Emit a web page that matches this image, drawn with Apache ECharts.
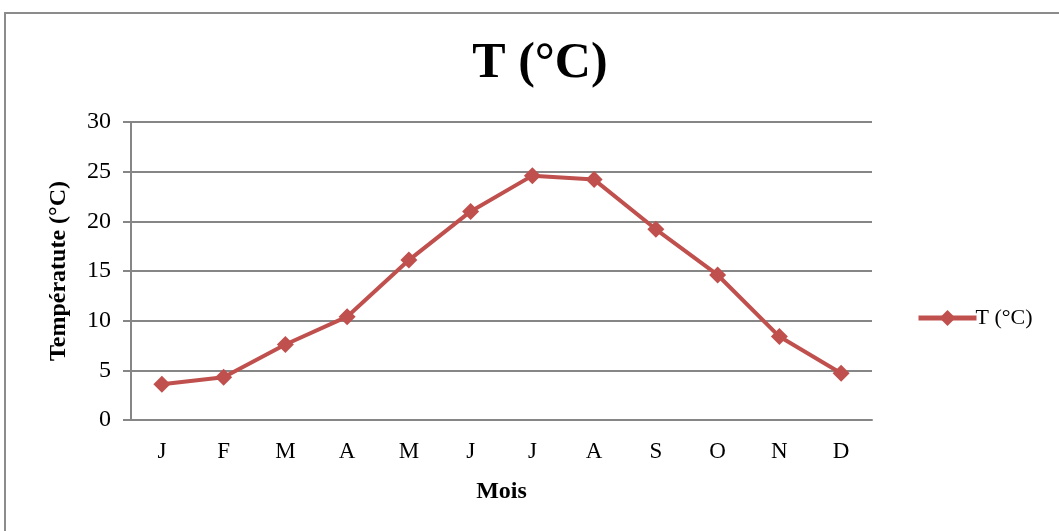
<!DOCTYPE html>
<html><head><meta charset="utf-8">
<script src="https://cdn.jsdelivr.net/npm/echarts@6/dist/echarts.min.js"></script>
<style>html,body{margin:0;padding:0;background:#fff}#c{width:1059px;height:531px}</style>
</head><body><div id="c"></div>
<script>
const categories = ['J','F','M','A','M','J','J','A','S','O','N','D'];
const temperatures = [3.6, 4.3, 7.6, 10.4, 16.1, 21.0, 24.6, 24.2, 19.2, 14.6, 8.4, 4.7];
const seriesName = 'T (°C)';
const yTicks = [0, 30, 5];

const font = '"Liberation Serif","Times New Roman",serif';
const chart = echarts.init(document.getElementById('c'));
chart.setOption({
  animation: false,
  textStyle: {fontFamily: font},
  graphic: [{type:'rect', shape:{x:5, y:13, width:1070, height:540}, style:{fill:'none', stroke:'#8c8c8c', lineWidth:2}, silent:true}],
  title: {text: seriesName, left: 535, top: 34, textAlign:'center',
    textStyle: {fontFamily: font, fontSize: 50, fontWeight: 'bold', color: '#000'}},
  grid: {left: 131, right: 187, top: 122, bottom: 111},
  legend: {data:[seriesName], left: 911, top: 302, itemWidth: 58, itemHeight: 20, itemGap: 2,
    lineStyle: {width: 5},
    textStyle:{fontFamily: font, fontSize: 22, color:'#000', padding:[0,0,0,-6]}},
  xAxis: {type:'category', data: categories, boundaryGap: true,
    name: 'Mois', nameLocation: 'middle', nameGap: 60,
    nameTextStyle: {fontFamily: font, fontSize: 24, fontWeight: 'bold', color:'#000'},
    axisLine: {lineStyle:{color:'#868686', width: 2}},
    axisTick: {show:false},
    axisLabel: {fontFamily: font, fontSize: 23, color:'#000', margin: 20}},
  yAxis: {type:'value', min: yTicks[0], max: yTicks[1], interval: yTicks[2],
    name: 'Températute (°C)', nameLocation: 'middle', nameGap: 60,
    nameTextStyle: {fontFamily: font, fontSize: 24, fontWeight: 'bold', color:'#000'},
    axisLine: {show:true, lineStyle:{color:'#868686', width: 2}},
    axisTick: {show:true, length: 8, lineStyle:{color:'#868686', width:2}},
    splitLine: {lineStyle:{color:'#868686', width: 2}},
    axisLabel: {fontFamily: font, fontSize: 24, color:'#000', margin: 20}},
  series: [{name: seriesName, type:'line', data: temperatures,
    symbol: 'diamond', symbolSize: 17,
    lineStyle: {color:'#C0504D', width: 4},
    itemStyle: {color:'#C0504D'}}]
});
</script></body></html>
